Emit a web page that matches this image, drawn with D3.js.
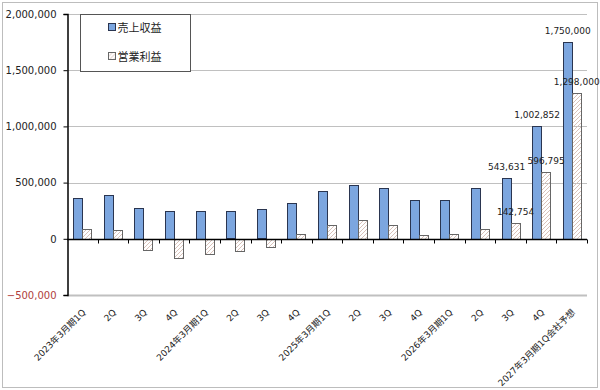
<!DOCTYPE html>
<html>
<head>
<meta charset="utf-8">
<script src="https://cdn.jsdelivr.net/npm/d3@7"></script>
<style>
  body { margin: 0; background: #fff; }
  svg { display: block; font-family: "DejaVu Sans", "Noto Sans CJK JP", sans-serif; }
</style>
</head>
<body>
<script>
// Data ==============================================
const categories = ["2023年3月期1Q", "2Q", "3Q", "4Q", "2024年3月期1Q", "2Q", "3Q", "4Q",
  "2025年3月期1Q", "2Q", "3Q", "4Q", "2026年3月期1Q", "2Q", "3Q", "4Q", "2027年3月期1Q会社予想"];
const revenue = [367000, 391000, 276000, 249000, 248000, 243000, 261000, 319000,
  427000, 477000, 450000, 347000, 344000, 450000, 543631, 1002852, 1750000];
const opProfit = [86000, 80000, -98000, -172000, -136000, -104000, -68000, 44000,
  124000, 169000, 122000, 36000, 41000, 86000, 142754, 596795, 1298000];
const seriesNames = ["売上収益", "営業利益"];
const yTicks = [-500000, 0, 500000, 1000000, 1500000, 2000000];
const labelled = [14, 15, 16]; // categories with data labels

const width = 600, height = 390;
const plot = {left: 67, right: 587, top: 14, bottom: 295};

const svg = d3.select("body").append("svg")
    .attr("width", width)
    .attr("height", height);

// Outer chart border
svg.append("rect")
    .attr("x", 2.5).attr("y", 2.5)
    .attr("width", 595).attr("height", 385)
    .attr("fill", "#fff")
    .attr("stroke", "#bdbdbd");

// Hatch pattern for operating profit
const defs = svg.append("defs");
defs.append("pattern")
    .attr("id", "hatch")
    .attr("patternUnits", "userSpaceOnUse")
    .attr("width", 4).attr("height", 4)
  .append("path")
    .attr("d", "M-1,1 l2,-2 M0,4 l4,-4 M3,5 l2,-2")
    .attr("stroke", "#d9c2ba")
    .attr("stroke-width", 1);

// Scales
const x = d3.scaleBand()
    .domain(d3.range(categories.length))
    .range([plot.left, plot.right]);

const y = d3.scaleLinear()
    .domain([-500000, 2000000])
    .range([plot.bottom, plot.top]);

const barW = 9;
const pad = (x.bandwidth() - 2 * barW) / 2;
const fmt = d3.format(",");

// Gridlines
svg.append("g")
  .selectAll("line")
  .data(yTicks)
  .enter().append("line")
    .attr("x1", plot.left).attr("x2", plot.right)
    .attr("y1", d => Math.round(y(d)) + 0.5)
    .attr("y2", d => Math.round(y(d)) + 0.5)
    .attr("stroke", "#c0c0c0")
    .attr("stroke-width", d => d === -500000 ? 2 : 1);

// Bars
const series = [revenue, opProfit];
const fills = ["#7ca6df", "url(#hatch)"];

series.forEach((vals, s) => {
  svg.append("g")
    .selectAll("rect")
    .data(vals)
    .enter().append("rect")
      .attr("x", (d, i) => Math.round(x(i) + pad + s * barW) + 0.5)
      .attr("y", d => Math.round(y(Math.max(0, d))) + 0.5)
      .attr("width", barW)
      .attr("height", d => Math.round(Math.abs(y(d) - y(0))))
      .attr("fill", fills[s])
      .attr("stroke", s === 0 ? "#2a3550" : "#666")
      .attr("stroke-width", 1);
});

// Data labels on the last bars
series.forEach((vals, s) => {
  svg.append("g")
    .selectAll("text")
    .data(labelled)
    .enter().append("text")
      .attr("x", i => x(i) + pad + s * barW + barW / 2 + 0.5)
      .attr("y", i => y(vals[i]) - 8)
      .attr("text-anchor", "middle")
      .attr("font-size", "9px")
      .attr("fill", "#222")
      .text(i => fmt(vals[i]));
});

// Y axis
const yAxis = d3.axisLeft(y)
    .tickValues(yTicks)
    .tickSize(4)
    .tickPadding(7)
    .tickFormat(fmt);

const yg = svg.append("g")
    .attr("transform", `translate(${plot.left + 0.5},0)`)
    .call(yAxis);
yg.select(".domain").attr("stroke", "#000").attr("stroke-width", 1.5);
yg.selectAll(".tick line").attr("stroke", "#000");
yg.selectAll(".tick text")
    .attr("font-size", "10px")
    .attr("font-family", "DejaVu Sans")
    .attr("fill", d => d < 0 ? "#b0403c" : "#222");

// X axis line at zero with ticks between categories
const zeroY = Math.round(y(0)) + 0.5;
svg.append("line")
    .attr("x1", plot.left).attr("x2", plot.right)
    .attr("y1", zeroY).attr("y2", zeroY)
    .attr("stroke", "#000").attr("stroke-width", 1.5);

svg.append("g")
  .selectAll("line")
  .data(d3.range(1, categories.length + 1))
  .enter().append("line")
    .attr("x1", i => Math.round(plot.left + i * x.step()) + 0.5)
    .attr("x2", i => Math.round(plot.left + i * x.step()) + 0.5)
    .attr("y1", zeroY).attr("y2", zeroY + 4)
    .attr("stroke", "#000");

// Category labels below the plot, rotated
svg.append("g")
  .selectAll("text")
  .data(categories)
  .enter().append("text")
    .attr("transform", (d, i) => `translate(${x(i) + x.bandwidth() / 2 + 4},313) rotate(-45)`)
    .attr("text-anchor", "end")
    .attr("font-size", "9px")
    .attr("fill", "#222")
    .text(d => d);

// Legend ==============
const legend = svg.append("g").attr("transform", "translate(80.5,14.5)");
legend.append("rect")
    .attr("width", 110).attr("height", 57)
    .attr("fill", "#fff")
    .attr("stroke", "#555");

seriesNames.forEach((name, s) => {
  const row = legend.append("g").attr("transform", `translate(28,${9 + s * 29})`);
  row.append("rect")
      .attr("width", 7).attr("height", 7)
      .attr("fill", fills[s])
      .attr("stroke", s === 0 ? "#2a3550" : "#666");
  row.append("text")
      .attr("x", 9).attr("y", 8)
      .attr("font-size", "11px")
      .attr("font-family", "Noto Sans CJK JP")
      .attr("fill", "#222")
      .text(name);
});
</script>
</body>
</html>
